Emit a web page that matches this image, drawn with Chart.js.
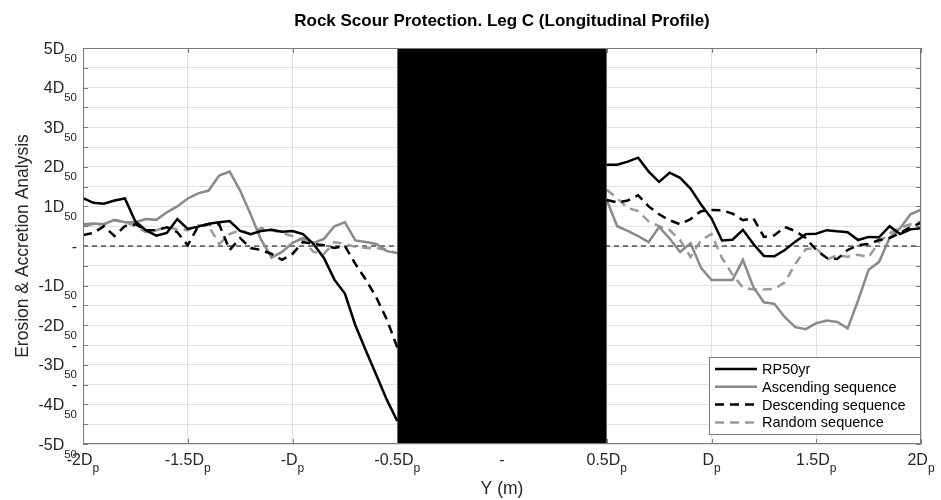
<!DOCTYPE html>
<html>
<head>
<meta charset="utf-8">
<script src="https://cdn.jsdelivr.net/npm/chart.js@4.4.1/dist/chart.umd.min.js"></script>
<style>
  body { margin: 0; background: #fff; }
  #wrap { width: 941px; height: 500px; }
</style>
</head>
<body>
<div id="wrap"><canvas id="scourChart"></canvas></div>
<script>
// positions along the profile, in pile diameters (Dp)
const xLeft = [-2.00, -1.95, -1.90, -1.85, -1.80, -1.75, -1.70, -1.65, -1.60, -1.55, -1.50,
               -1.45, -1.40, -1.35, -1.30, -1.25, -1.20, -1.15, -1.10, -1.05, -1.00,
               -0.95, -0.90, -0.85, -0.80, -0.75, -0.70, -0.65, -0.60, -0.55, -0.50];
const xRight = [0.50, 0.55, 0.60, 0.65, 0.70, 0.75, 0.80, 0.85, 0.90, 0.95, 1.00,
                1.05, 1.10, 1.15, 1.20, 1.25, 1.30, 1.35, 1.40, 1.45, 1.50,
                1.55, 1.60, 1.65, 1.70, 1.75, 1.80, 1.85, 1.90, 1.95, 2.00];

// bed level change, in D50
const rpLeft = [1.21, 1.09, 1.07, 1.15, 1.20, 0.62, 0.40, 0.26, 0.33, 0.68, 0.43,
                0.49, 0.56, 0.60, 0.63, 0.38, 0.30, 0.38, 0.41, 0.36, 0.38,
                0.30, 0.05, -0.30, -0.85, -1.20, -2.00, -2.64, -3.26, -3.88, -4.42];
const rpRight = [2.05, 2.05, 2.13, 2.23, 1.88, 1.62, 1.85, 1.72, 1.45, 1.05, 0.70,
                 0.14, 0.16, 0.41, 0.05, -0.25, -0.26, -0.10, 0.11, 0.30, 0.31,
                 0.40, 0.37, 0.35, 0.15, 0.23, 0.22, 0.50, 0.30, 0.42, 0.45];

const ascLeft = [0.55, 0.57, 0.55, 0.66, 0.60, 0.60, 0.68, 0.66, 0.85, 1.00, 1.20,
                 1.33, 1.40, 1.78, 1.88, 1.40, 0.80, 0.16, -0.29, -0.15, 0.08,
                 0.20, 0.08, 0.18, 0.50, 0.60, 0.14, 0.10, 0.05, -0.13, -0.18];
const ascRight = [1.16, 0.50, 0.38, 0.25, 0.10, 0.48, 0.19, -0.15, 0.07, -0.55, -0.86,
                  -0.86, -0.86, -0.35, -1.04, -1.42, -1.46, -1.80, -2.05, -2.10, -1.95,
                  -1.88, -1.92, -2.08, -1.37, -0.60, -0.40, 0.20, 0.45, 0.80, 0.92];

const descLeft = [0.28, 0.33, 0.50, 0.25, 0.50, 0.55, 0.40, 0.40, 0.47, 0.35, 0.02,
                  0.50, 0.55, 0.55, -0.10, 0.20, -0.05, -0.10, -0.20, -0.35, -0.20,
                  0.10, 0.05, 0.02, -0.05, 0.00, -0.45, -0.85, -1.30, -1.85, -2.56];
const descRight = [1.16, 1.10, 1.15, 1.28, 1.00, 0.80, 0.65, 0.55, 0.68, 0.88, 0.91,
                   0.90, 0.82, 0.65, 0.70, 0.23, 0.27, 0.48, 0.38, 0.20, -0.10,
                   -0.30, -0.33, -0.10, 0.02, 0.05, 0.15, 0.20, 0.33, 0.48, 0.58];

const randLeft = [0.50, 0.55, 0.55, 0.65, 0.60, 0.50, 0.35, 0.40, 0.48, 0.42, 0.40,
                  0.53, 0.50, 0.05, 0.30, 0.40, 0.30, 0.45, 0.40, 0.33, 0.25,
                  0.15, -0.15, -0.20, 0.10, 0.05, -0.02, -0.05, -0.05, -0.10, -0.18];
const randRight = [1.42, 1.20, 0.96, 0.88, 0.62, 0.50, 0.40, 0.15, -0.28, 0.15, 0.30,
                   -0.30, -0.72, -1.05, -1.10, -1.10, -1.08, -0.92, -0.45, -0.08, -0.05,
                   -0.35, -0.23, -0.27, -0.22, -0.28, 0.10, 0.32, 0.46, 0.55, 0.62];

const seriesNames = ["RP50yr", "Ascending sequence", "Descending sequence", "Random sequence"];

// pile footprint
const pileX = [-0.5, 0.5];

// tick labels, "_" marks the start of the subscript
const xTickLabels = ["-2D_p", "-1.5D_p", "-D_p", "-0.5D_p", "-", "0.5D_p", "D_p", "1.5D_p", "2D_p"];
// one per 0.5 step from -5 to 5
const yTickLabels = ["-5D_50", "", "-4D_50", "-", "-3D_50", "-", "-2D_50", "-", "-1D_50", "", "-",
                     "", "1D_50", "", "2D_50", "", "3D_50", "", "4D_50", "", "5D_50"];

const FONT = '"Liberation Sans", Arial, Helvetica, sans-serif';
Chart.defaults.font.family = FONT;

function bothSides(yl, yr) {
    const pts = xLeft.map((x, i) => ({ x: x, y: yl[i] }));
    pts.push({ x: 0, y: null });
    return pts.concat(xRight.map((x, i) => ({ x: x, y: yr[i] })));
}

function drawSub(ctx, text, x, baseY, align, mainSize, subSize, drop) {
    const parts = text.split("_");
    const main = parts[0], sub = parts[1] || "";
    ctx.font = mainSize + "px " + FONT;
    const wm = ctx.measureText(main).width;
    ctx.font = subSize + "px " + FONT;
    const ws = ctx.measureText(sub).width;
    const x0 = align === "right" ? x - wm - ws : x - (wm + ws) / 2;
    ctx.textAlign = "left";
    ctx.textBaseline = "alphabetic";
    ctx.font = mainSize + "px " + FONT;
    ctx.fillText(main, x0, baseY);
    if (sub) {
        ctx.font = subSize + "px " + FONT;
        ctx.fillText(sub, x0 + wm, baseY + drop);
    }
}

// frame, inner ticks, subscript tick labels and the legend box
const scourDecor = {
    id: "scourDecor",
    afterDraw(chart) {
        const ctx = chart.ctx;
        const a = chart.chartArea;
        const xs = chart.scales.x, ys = chart.scales.y;
        ctx.save();

        ctx.strokeStyle = "#7a7a7a";
        ctx.lineWidth = 1;
        ctx.strokeRect(a.left + 0.5, a.top + 0.5, a.right - a.left - 1, a.bottom - a.top - 1);
        ctx.beginPath();
        ys.ticks.forEach(t => {
            const y = Math.round(ys.getPixelForValue(t.value)) + 0.5;
            ctx.moveTo(a.left, y); ctx.lineTo(a.left + 5, y);
            ctx.moveTo(a.right, y); ctx.lineTo(a.right - 5, y);
        });
        xs.ticks.forEach(t => {
            if (Math.abs(t.value) < 0.5) return;
            const x = Math.round(xs.getPixelForValue(t.value)) + 0.5;
            ctx.moveTo(x, a.bottom); ctx.lineTo(x, a.bottom - 5);
            ctx.moveTo(x, a.top); ctx.lineTo(x, a.top + 5);
        });
        ctx.stroke();

        ctx.fillStyle = "#262626";
        ys.ticks.forEach(t => {
            const label = yTickLabels[Math.round((t.value + 5) * 2)];
            if (!label) return;
            drawSub(ctx, label, a.left - 6, ys.getPixelForValue(t.value) + 5.5, "right", 16, 11.5, 8);
        });
        xs.ticks.forEach(t => {
            const label = xTickLabels[Math.round((t.value + 2) * 2)];
            if (!label) return;
            drawSub(ctx, label, xs.getPixelForValue(t.value), a.bottom + 20.5, "center", 16, 12, 7.5);
        });

        // legend
        const lx = a.right - 212, ly = a.bottom - 87, lw = 211, lh = 77;
        ctx.fillStyle = "#fff";
        ctx.fillRect(lx, ly, lw, lh);
        ctx.strokeStyle = "#7a7a7a";
        ctx.strokeRect(lx + 0.5, ly + 0.5, lw, lh);
        const items = chart.data.datasets.filter(d => seriesNames.includes(d.label));
        items.forEach((d, i) => {
            const y = ly + 12 + i * 17.8;
            ctx.beginPath();
            ctx.strokeStyle = d.borderColor;
            ctx.lineWidth = d.borderWidth;
            ctx.setLineDash(d.borderDash || []);
            ctx.moveTo(lx + 6, y);
            ctx.lineTo(lx + 48, y);
            ctx.stroke();
            ctx.setLineDash([]);
            ctx.fillStyle = "#000";
            ctx.font = "14.5px " + FONT;
            ctx.textAlign = "left";
            ctx.textBaseline = "middle";
            ctx.fillText(d.label, lx + 53, y + 1);
        });
        ctx.restore();
    }
};

const ctx = document.getElementById("scourChart");
new Chart(ctx, {
    type: "line",
    data: {
        datasets: [
            {
                label: "pile",
                data: pileX.map(x => ({ x: x, y: 5 })),
                borderWidth: 0,
                borderColor: "#000",
                backgroundColor: "#000",
                fill: "start",
                pointRadius: 0,
                order: -1
            },
            {
                label: "zero",
                data: [{ x: -2, y: 0 }, { x: 2, y: 0 }],
                borderColor: "#000",
                borderWidth: 1,
                borderDash: [5, 4],
                pointRadius: 0,
                order: 2
            },
            {
                label: seriesNames[0],
                data: bothSides(rpLeft, rpRight),
                borderColor: "#000",
                borderWidth: 2.5,
                pointRadius: 0,
                order: 0
            },
            {
                label: seriesNames[1],
                data: bothSides(ascLeft, ascRight),
                borderColor: "#8a8a8a",
                borderWidth: 2.5,
                pointRadius: 0,
                order: 1
            },
            {
                label: seriesNames[2],
                data: bothSides(descLeft, descRight),
                borderColor: "#000",
                borderWidth: 2.5,
                borderDash: [9, 6],
                pointRadius: 0,
                order: 0
            },
            {
                label: seriesNames[3],
                data: bothSides(randLeft, randRight),
                borderColor: "#9a9a9a",
                borderWidth: 2.5,
                borderDash: [9, 6],
                pointRadius: 0,
                order: 1
            }
        ]
    },
    options: {
        responsive: true,
        maintainAspectRatio: false,
        animation: false,
        layout: { padding: { left: 0, right: 20, top: 0, bottom: 0 } },
        plugins: {
            legend: { display: false },
            tooltip: { enabled: false },
            title: {
                display: true,
                text: "Rock Scour Protection. Leg C (Longitudinal Profile)",
                fullSize: false,
                color: "#000",
                font: { size: 17, weight: "bold" },
                padding: { top: 10.8, bottom: 16.8 }
            }
        },
        scales: {
            x: {
                type: "linear",
                min: -2,
                max: 2,
                ticks: { stepSize: 0.5, display: false },
                grid: { color: "#e2e2e2", drawTicks: false },
                border: { display: false },
                title: {
                    display: true,
                    text: "Y (m)",
                    color: "#262626",
                    font: { size: 17.5 },
                    padding: { top: 0, bottom: 0 }
                },
                afterFit(scale) { scale.height = 56; }
            },
            y: {
                min: -5,
                max: 5,
                ticks: { stepSize: 0.5, display: false },
                grid: { color: "#e2e2e2", drawTicks: false },
                border: { display: false },
                title: {
                    display: true,
                    text: "Erosion & Accretion Analysis",
                    color: "#262626",
                    font: { size: 17.5 },
                    padding: { top: 13, bottom: 0 }
                },
                afterFit(scale) { scale.width = 83; }
            }
        }
    },
    plugins: [scourDecor]
});
</script>
</body>
</html>
